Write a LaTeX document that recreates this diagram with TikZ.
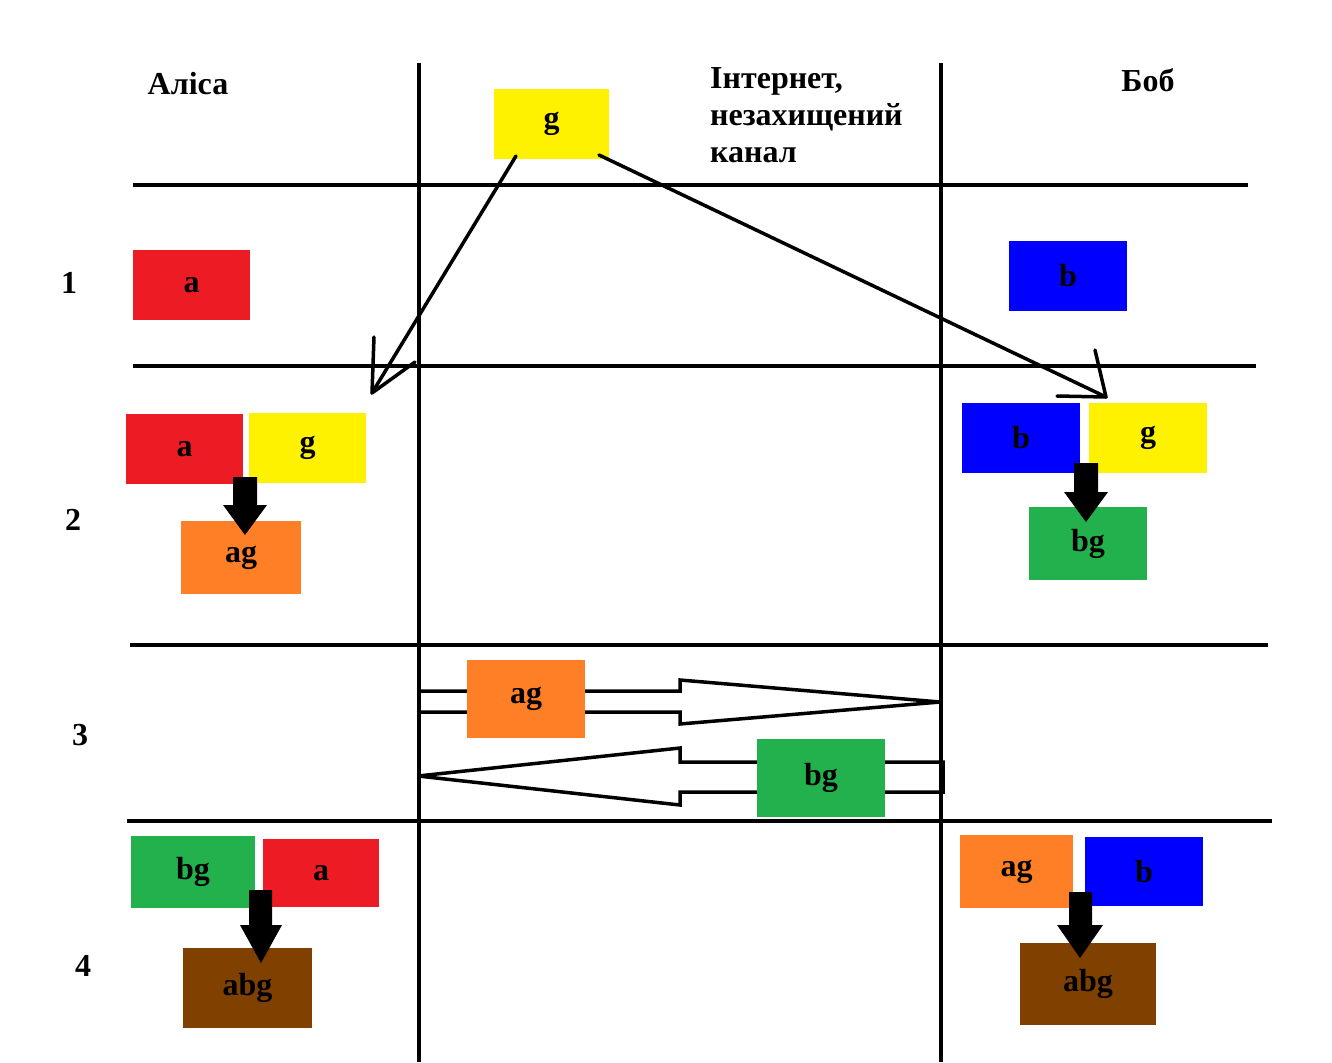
\documentclass[tikz,border=0pt]{standalone}
\usepackage{fontspec}
\setmainfont{Liberation Serif}
\definecolor{cred}{HTML}{ED1C24}
\definecolor{cyellow}{HTML}{FFF200}
\definecolor{cblue}{HTML}{0000FF}
\definecolor{corange}{HTML}{FF7F27}
\definecolor{cgreen}{HTML}{22B14C}
\definecolor{cbrown}{HTML}{804000}
\begin{document}
\begin{tikzpicture}[x=1pt,y=-1pt,
  box/.style={rectangle,inner sep=0pt,font=\fontsize{32}{38}\selectfont\bfseries},
  lbl/.style={inner sep=0pt,font=\fontsize{32}{38}\selectfont\bfseries},
  rule/.style={line width=3.5pt},
  thinarrow/.style={line width=3.5pt,line cap=round,line join=round},
  fatarrow/.style={fill=black,line join=round},
  hollow/.style={line width=3.5pt,line join=miter,miter limit=3}]
\useasboundingbox[fill=white] (0,0) rectangle (1332,1062);

% grid lines
\draw[rule] (419,63) -- (419,1062);
\draw[rule] (941,63) -- (941,1062);
\draw[rule] (133,185) -- (1248,185);
\draw[rule] (133,366) -- (1256,366);
\draw[rule] (130,645) -- (1268,645);
\draw[rule] (127,821) -- (1272,821);

% headings
\node[lbl] (alice) at (188,84) {Аліса};
\node[lbl] (bob) at (1148,80) {Боб};
\node[lbl,anchor=north west,align=left,font=\fontsize{32}{37}\selectfont\bfseries] (net) at (710,67) {Інтернет,\\незахищений\\канал};

% row numbers
\node[lbl] (n1) at (69,283) {1};
\node[lbl] (n2) at (73,520) {2};
\node[lbl] (n3) at (80,735) {3};
\node[lbl] (n4) at (83,966) {4};

% row 0 / 1
\node[box,fill=cyellow,minimum width=115pt,minimum height=70pt] (g0) at (551.5,124) {g};
\node[box,fill=cred,minimum width=117pt,minimum height=70pt] (a1) at (191.5,285) {a};
\node[box,fill=cblue,minimum width=118pt,minimum height=70pt] (b1) at (1068,276) {b};

% row 2
\node[box,fill=cred,minimum width=117pt,minimum height=70pt] (a2) at (184.5,449) {a};
\node[box,fill=cyellow,minimum width=117pt,minimum height=70pt] (g2l) at (307.5,448) {g};
\node[box,fill=corange,minimum width=120pt,minimum height=73pt] (ag2) at (241,557.5) {ag};
\node[box,fill=cblue,minimum width=118pt,minimum height=70pt] (b2) at (1021,438) {b};
\node[box,fill=cyellow,minimum width=118pt,minimum height=70pt] (g2r) at (1148,438) {g};
\node[box,fill=cgreen,minimum width=118pt,minimum height=73pt] (bg2) at (1088,543.5) {bg};

% thin arrows from g
\coordinate (tipL) at (372,393);
\coordinate (tipR) at (1106,397);
\draw[thinarrow] (516,156) -- (tipL);
\draw[thinarrow] (374,337) -- (tipL) -- (415,362);
\draw[thinarrow] (599,155) -- (tipR);
\draw[thinarrow] (1095,350) -- (tipR) -- (1057,396);

% fat arrows row 2
\fill[fatarrow] (233,477) -- (257,477) -- (257,505) -- (267,505) -- (245,535) -- (223,505) -- (233,505) -- cycle;
\fill[fatarrow] (1074,463) -- (1098,463) -- (1098,492) -- (1108,492) -- (1086,522) -- (1064,492) -- (1074,492) -- cycle;

% row 3 hollow arrows
\draw[hollow] (419,691) -- (680,691) -- (680,680) -- (940,702) -- (680,724) -- (680,712) -- (419,712);
\draw[hollow] (943,762) -- (680,762) -- (680,748) -- (418,776) -- (680,805) -- (680,792) -- (943,792) -- cycle;
\node[box,fill=corange,minimum width=118pt,minimum height=78pt] (ag3) at (526,699) {ag};
\node[box,fill=cgreen,minimum width=128pt,minimum height=78pt] (bg3) at (821,778) {bg};

% row 4
\node[box,fill=cgreen,minimum width=124pt,minimum height=72pt] (bg4) at (193,872) {bg};
\node[box,fill=cred,minimum width=116pt,minimum height=68pt] (a4) at (321,873) {a};
\node[box,fill=cbrown,minimum width=129pt,minimum height=80pt] (abg4l) at (247.5,988) {abg};
\node[box,fill=corange,minimum width=113pt,minimum height=73pt] (ag4) at (1016.5,871.5) {ag};
\node[box,fill=cblue,minimum width=118pt,minimum height=69pt] (b4) at (1144,871.5) {b};
\node[box,fill=cbrown,minimum width=136pt,minimum height=82pt] (abg4r) at (1088,984) {abg};

% fat arrows row 4
\fill[fatarrow] (249,890) -- (272,890) -- (272,925) -- (282,925) -- (261,963) -- (240,925) -- (249,925) -- cycle;
\fill[fatarrow] (1069,892) -- (1092,892) -- (1092,925) -- (1103,925) -- (1080,958) -- (1057,925) -- (1069,925) -- cycle;
\end{tikzpicture}
\end{document}
